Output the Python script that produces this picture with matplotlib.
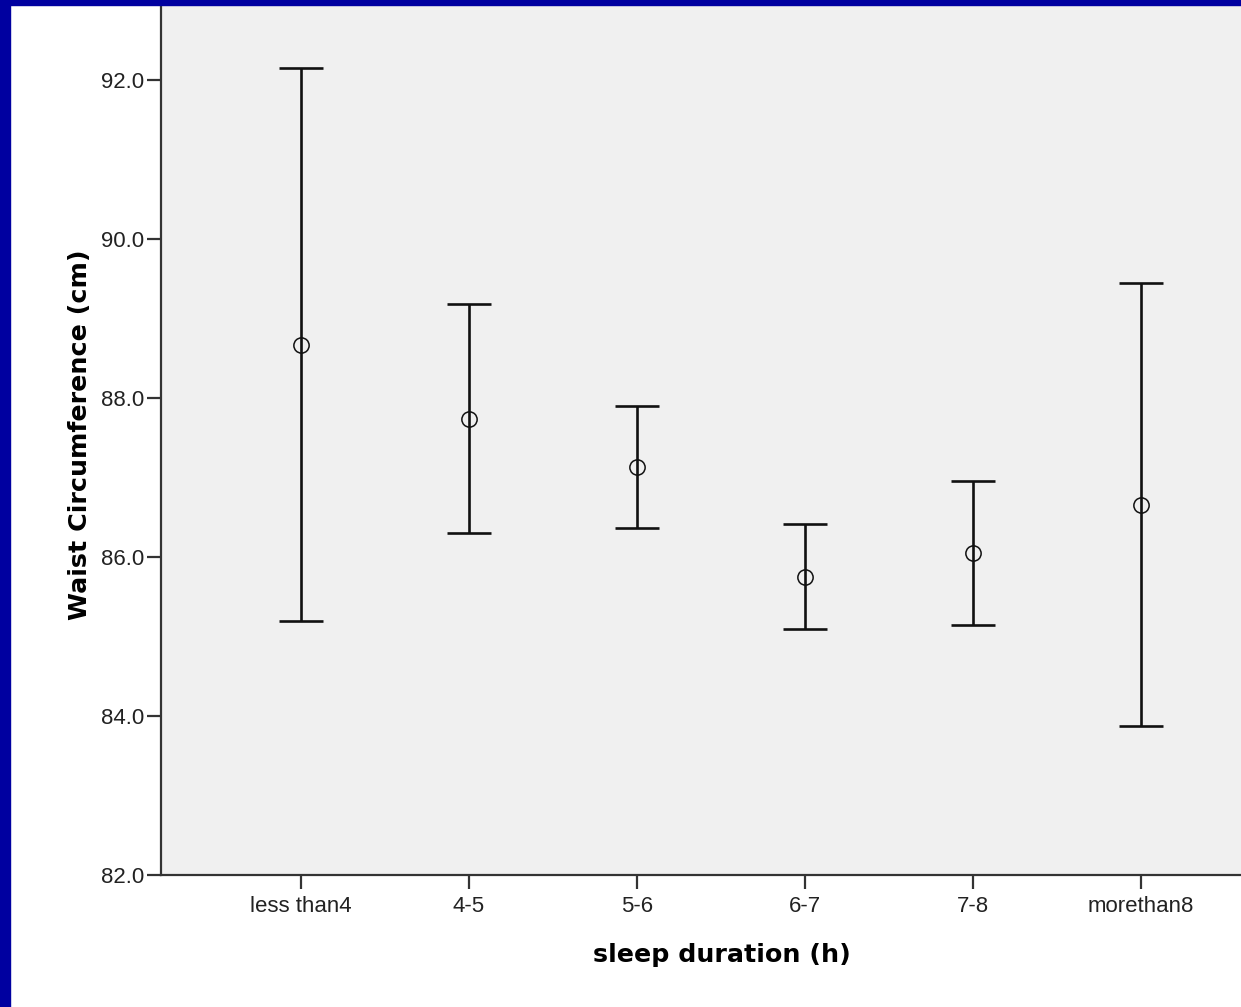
import matplotlib.pyplot as plt
import matplotlib.patches as patches

plt.rcParams['font.family'] = ['Liberation Sans', 'DejaVu Sans']

# Data (mean and 95% CI)
groups = ["less than4", "4-5", "5-6", "6-7", "7-8", "morethan8"]
means = [88.67, 87.74, 87.13, 85.75, 86.05, 86.65]
upper = [92.15, 89.18, 87.90, 86.42, 86.96, 89.45]
lower = [85.19, 86.30, 86.36, 85.09, 85.14, 83.87]

x = list(range(len(groups)))
err_lo = [m - l for m, l in zip(means, lower)]
err_hi = [u - m for u, m in zip(upper, means)]

fig = plt.figure(figsize=(12.41, 10.07), dpi=100)
fig.patch.set_facecolor('white')

# blue frame on left and top
fig.add_artist(patches.Rectangle((0, 0), 10 / 1241, 1, transform=fig.transFigure,
                                 color='#0000a0', zorder=10))
fig.add_artist(patches.Rectangle((0, 1 - 5 / 1007), 1, 5 / 1007, transform=fig.transFigure,
                                 color='#0000a0', zorder=10))

ax = fig.add_axes([161 / 1241, 1 - 875 / 1007, 1 - 161 / 1241, 870 / 1007])
ax.set_facecolor('#f0f0f0')

ax.errorbar(x, means, yerr=[err_lo, err_hi], fmt='none', ecolor='#111111',
            elinewidth=1.9, capsize=15.5, capthick=1.9)
ax.plot(x, means, 'o', mfc='none', mec='#111111', ms=11, mew=1.1)

ax.set_xlim(-0.833, 5.595)
ax.set_ylim(82, 92.94)
ax.set_yticks([82, 84, 86, 88, 90, 92])
ax.set_yticklabels(['82.0', '84.0', '86.0', '88.0', '90.0', '92.0'])
ax.set_xticks(x)
ax.set_xticklabels(groups)

for side in ['top', 'right']:
    ax.spines[side].set_visible(False)
for side in ['left', 'bottom']:
    ax.spines[side].set_linewidth(1.6)
    ax.spines[side].set_color('#333333')

ax.tick_params(axis='both', direction='out', length=10, width=1.6, color='#333333',
               labelsize=16, labelcolor='#222222', pad=2)
ax.tick_params(axis='x', pad=5)

ax.set_xlabel('sleep duration (h)', fontsize=18.3, fontweight='bold',
              family='DejaVu Sans', va='center')
ax.set_ylabel('Waist Circumference (cm)', fontsize=18.3, fontweight='bold',
              family='DejaVu Sans', va='center')
ax.xaxis.set_label_coords(0.519, -0.092)
ax.yaxis.set_label_coords(-0.075, 0.506)

fig.savefig('out.png', dpi=100)
